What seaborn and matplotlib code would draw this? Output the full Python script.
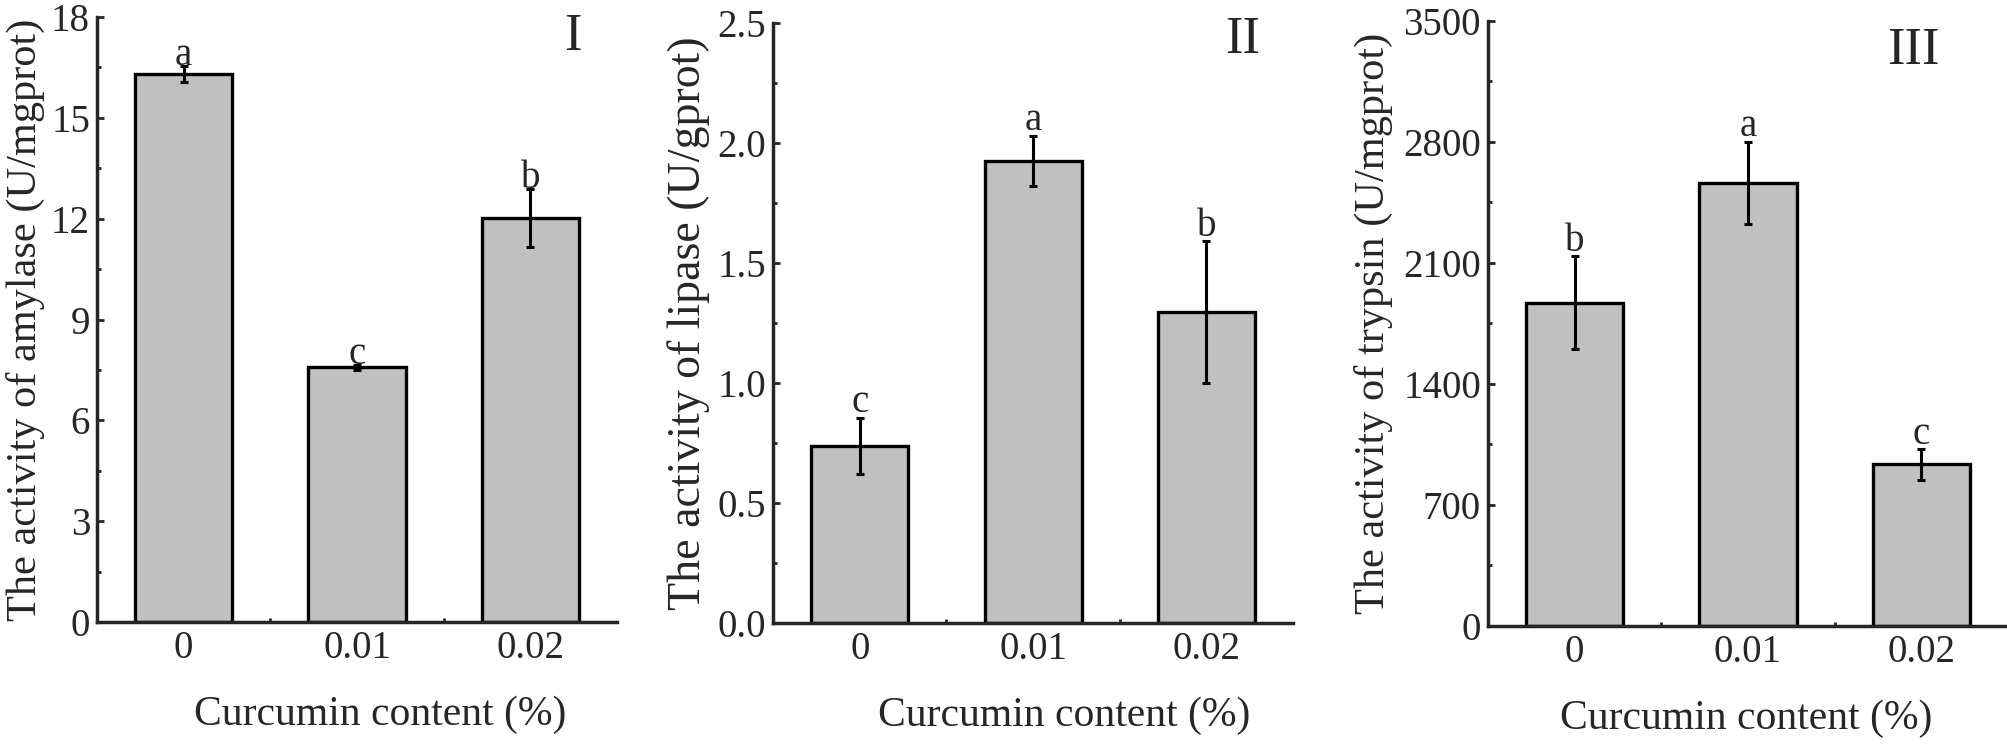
import pandas as pd
import matplotlib.pyplot as plt
import seaborn as sns
from matplotlib.ticker import MultipleLocator

# data
doses = ['0', '0.01', '0.02']

amylase_mean = [16.3, 7.58, 12.02]
amylase_sd = [0.24, 0.07, 0.86]
amylase_sig = ['a', 'c', 'b']

lipase_mean = [0.738, 1.925, 1.295]
lipase_sd = [0.117, 0.105, 0.295]
lipase_sig = ['c', 'a', 'b']

trypsin_mean = [1870, 2565, 935]
trypsin_sd = [270, 237, 88]
trypsin_sig = ['b', 'a', 'c']

sns.set_style('ticks')
plt.rcParams['font.family'] = ['Liberation Serif', 'DejaVu Serif']
plt.rcParams['font.size'] = 28

fig = plt.figure(figsize=(20.08, 7.47), dpi=100)

panels = [
    dict(rect=[0.0483, 0.1673, 0.259, 0.8099], mean=amylase_mean, sd=amylase_sd, sig=amylase_sig,
         ylab='The activity of amylase (U/mgprot)', ylabsize=30.5, ymax=18, major=3, minor=1.5,
         fmt='{:.0f}', tag='I', tagpos=(0.915, 0.967), ylabx=-0.10, xlabx=0.544, sigoff=1),
    dict(rect=[0.385, 0.166, 0.259, 0.8032], mean=lipase_mean, sd=lipase_sd, sig=lipase_sig,
         ylab='The activity of lipase (U/gprot)', ylabsize=33, ymax=2.5, major=0.5, minor=0.25,
         fmt='{:.1f}', tag='II', tagpos=(0.902, 0.972), ylabx=-0.121, xlabx=0.56, sigoff=4),
    dict(rect=[0.741, 0.162, 0.259, 0.8099], mean=trypsin_mean, sd=trypsin_sd, sig=trypsin_sig,
         ylab='The activity of trypsin (U/mgprot)', ylabsize=30.5, ymax=3500, major=700, minor=350,
         fmt='{:.0f}', tag='III', tagpos=(0.819, 0.950), ylabx=-0.183, xlabx=0.496, sigoff=4),
]

for p in panels:
    ax = fig.add_axes(p['rect'])
    df = pd.DataFrame({'dose': doses, 'value': p['mean'], 'sd': p['sd']})
    sns.barplot(data=df, x='dose', y='value', ax=ax, errorbar=None, width=0.56,
                color='#c0c0c0', saturation=1, edgecolor='black', linewidth=2.4)
    ax.errorbar(range(len(doses)), df['value'], yerr=df['sd'], fmt='none',
                ecolor='black', elinewidth=2.2, capsize=3, capthick=2.2)
    for i, (m, s, lab) in enumerate(zip(df['value'], df['sd'], p['sig'])):
        ax.annotate(lab, (i, m + s), xytext=(0, p['sigoff']), textcoords='offset points',
                    ha='center', va='baseline', fontsize=28)

    ax.set_ylim(0, p['ymax'])
    ax.set_xlim(-0.5, 2.5)
    ax.yaxis.set_major_locator(MultipleLocator(p['major']))
    ax.yaxis.set_minor_locator(MultipleLocator(p['minor']))
    ax.set_xticks(range(len(doses)))
    ax.set_xticks([0.5, 1.5], minor=True)
    ax.set_yticks(ax.get_yticks())
    ax.set_yticklabels([p['fmt'].format(t) for t in ax.get_yticks()])
    ax.set_ylim(0, p['ymax'])

    ax.tick_params(which='major', direction='in', length=5, width=2, pad=6, labelsize=28)
    ax.tick_params(which='minor', direction='in', length=3, width=2)
    ax.tick_params(axis='y', pad=5)
    for side in ['top', 'right']:
        ax.spines[side].set_visible(False)
    for side in ['left', 'bottom']:
        ax.spines[side].set_linewidth(2.5)

    ax.set_ylabel(p['ylab'], fontsize=p['ylabsize'])
    ax.yaxis.set_label_coords(p['ylabx'], 0.5)
    ax.set_xlabel('Curcumin content (%)', fontsize=30)
    ax.xaxis.set_label_coords(p['xlabx'], -0.122)

    ax.text(p['tagpos'][0], p['tagpos'][1], p['tag'], transform=ax.transAxes,
            ha='center', va='center', fontsize=38)

plt.savefig('out.png', dpi=100, facecolor='white')
